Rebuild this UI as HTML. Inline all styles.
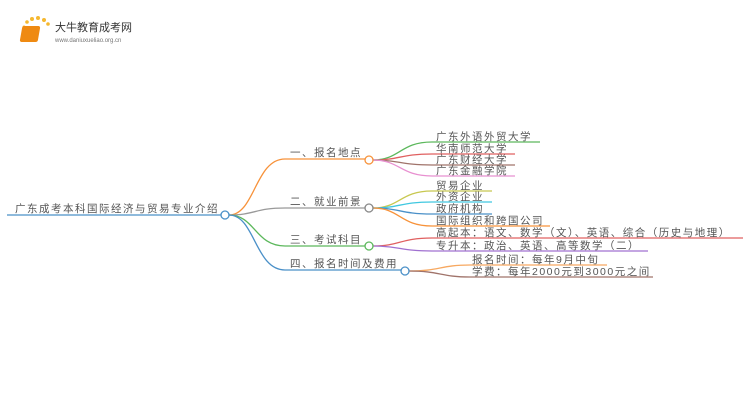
<!DOCTYPE html>
<html><head><meta charset="utf-8"><style>
html,body{margin:0;padding:0;background:#fff;width:750px;height:410px;overflow:hidden}
text{font-family:"Liberation Sans","Noto Sans CJK SC",sans-serif;font-size:10.5px;fill:#555;letter-spacing:1.5px}
</style></head><body>
<svg width="750" height="410" xmlns="http://www.w3.org/2000/svg">
<g>
<circle cx="24" cy="27" r="1.5" fill="#f5b830"/><circle cx="27" cy="22" r="1.8" fill="#f5b830"/><circle cx="32" cy="19" r="2" fill="#f5b830"/><circle cx="38" cy="18" r="2" fill="#f5b830"/><circle cx="44" cy="20" r="2" fill="#f5b830"/><circle cx="48" cy="24" r="1.8" fill="#f5b830"/>
<rect x="27" y="26" width="18" height="16" rx="2" fill="#ef8a12" transform="skewX(-10)"/>
<text x="55" y="31" style="font-size:11px;fill:#333;letter-spacing:0">大牛教育成考网</text>
<text x="55" y="42" style="font-size:6px;fill:#777;letter-spacing:0">www.daniuxueliao.org.cn</text>
</g>
<g fill="none" stroke-width="1.3">
<path d="M7 215 H222" stroke="#4a90c8"/>
<path d="M229 215 C255 215,255 159,285 159 H365" stroke="#f7923a"/>
<path d="M229 215 C255 215,255 208,285 208 H365" stroke="#999"/>
<path d="M229 215 C255 215,255 246,285 246 H365" stroke="#5cb85c"/>
<path d="M229 215 C255 215,255 270,285 270 H401" stroke="#4a90c8"/>
<path d="M373 160 C400 160,400 142,432 142 H540" stroke="#5cb85c"/>
<path d="M373 160 C400 160,400 154,432 154 H515" stroke="#e06060"/>
<path d="M373 160 C400 160,400 165,432 165 H515" stroke="#a0736a"/>
<path d="M373 160 C400 160,400 176,432 176 H515" stroke="#e890d0"/>
<path d="M373 208 C400 208,400 191,432 191 H492" stroke="#c8c850"/>
<path d="M373 208 C400 208,400 202,432 202 H492" stroke="#40c8e0"/>
<path d="M373 208 C400 208,400 214,432 214 H492" stroke="#4a90c8"/>
<path d="M373 208 C400 208,400 226,432 226 H550" stroke="#f7923a"/>
<path d="M373 246 C400 246,400 238,432 238 H743" stroke="#e06060"/>
<path d="M373 246 C400 246,400 251,432 251 H648" stroke="#a070d0"/>
<path d="M409 271 C440 271,440 265,470 265 H607" stroke="#f7a860"/>
<path d="M409 271 C440 271,440 277,470 277 H653" stroke="#a0736a"/>
<circle cx="225" cy="215" r="4" stroke="#4a90c8" fill="#fff"/>
<circle cx="369" cy="160" r="4" stroke="#f7923a" fill="#fff"/>
<circle cx="369" cy="208" r="4" stroke="#888" fill="#fff"/>
<circle cx="369" cy="246" r="4" stroke="#5cb85c" fill="#fff"/>
<circle cx="405" cy="271" r="4" stroke="#4a90c8" fill="#fff"/>
</g>
<text x="15" y="212">广东成考本科国际经济与贸易专业介绍</text>
<text x="290" y="156">一、报名地点</text>
<text x="290" y="205">二、就业前景</text>
<text x="290" y="243">三、考试科目</text>
<text x="290" y="267">四、报名时间及费用</text>
<text x="436" y="140">广东外语外贸大学</text>
<text x="436" y="152">华南师范大学</text>
<text x="436" y="163">广东财经大学</text>
<text x="436" y="174">广东金融学院</text>
<text x="436" y="189">贸易企业</text>
<text x="436" y="200">外资企业</text>
<text x="436" y="212">政府机构</text>
<text x="436" y="224">国际组织和跨国公司</text>
<text x="436" y="236">高起本：语文、数学（文）、英语、综合（历史与地理）</text>
<text x="436" y="249">专升本：政治、英语、高等数学（二）</text>
<text x="472" y="263">报名时间：每年9月中旬</text>
<text x="472" y="275">学费：每年2000元到3000元之间</text>
</svg>
</body></html>
